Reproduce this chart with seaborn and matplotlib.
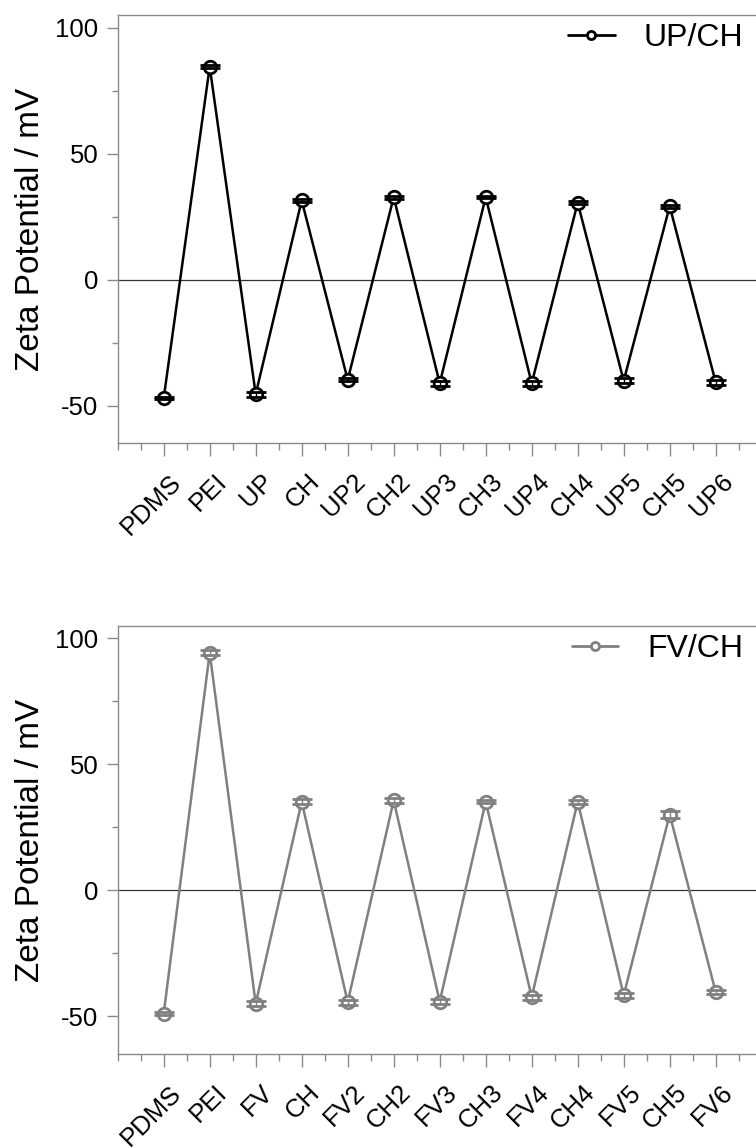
import numpy as np
import pandas as pd
import matplotlib
matplotlib.use("Agg")
import matplotlib.pyplot as plt
import matplotlib.transforms as mtransforms
from matplotlib.ticker import MultipleLocator
import seaborn as sns

# ---- data ----
labels_up = ["PDMS", "PEI", "UP", "CH", "UP2", "CH2", "UP3", "CH3", "UP4", "CH4", "UP5", "CH5", "UP6"]
values_up = [-47.1, 84.5, -45.5, 31.4, -39.8, 32.7, -41.2, 32.7, -41.2, 30.5, -40.2, 29.1, -40.8]
errors_up = [0.5, 0.6, 1.0, 0.5, 0.6, 0.6, 1.0, 0.5, 1.0, 0.6, 1.0, 0.6, 1.0]

labels_fv = ["PDMS", "PEI", "FV", "CH", "FV2", "CH2", "FV3", "CH3", "FV4", "CH4", "FV5", "CH5", "FV6"]
values_fv = [-48.9, 94.3, -44.9, 35.2, -44.3, 35.7, -44.1, 35.2, -42.3, 35.2, -41.6, 30.1, -40.3]
errors_fv = [0.5, 1.1, 1.0, 1.0, 1.0, 1.0, 1.0, 0.6, 1.0, 0.8, 1.0, 1.3, 0.9]

series_names = ["UP/CH", "FV/CH"]
series_colors = ["#000000", "#808080"]

sns.set_style("ticks")
plt.rcParams["font.family"] = ["Liberation Sans", "DejaVu Sans"]
plt.rcParams["text.color"] = "black"
plt.rcParams["axes.labelcolor"] = "black"
plt.rcParams["xtick.labelcolor"] = "black"
plt.rcParams["ytick.labelcolor"] = "black"

W, H = 756, 1148
fig = plt.figure(figsize=(W / 100, H / 100), dpi=100)

left_px, right_px = 117.7, 761.7
panels = [(15.0, 443.3), (625.7, 1054.3)]

datasets = [
    (labels_up, values_up, errors_up),
    (labels_fv, values_fv, errors_fv),
]

spine_col = "#8a8a8a"

for (top_px, bot_px), (labs, vals, errs), name, col in zip(panels, datasets, series_names, series_colors):
    ax = fig.add_axes([left_px / W, 1 - bot_px / H, (right_px - left_px) / W, (bot_px - top_px) / H])
    df = pd.DataFrame({"pos": np.arange(len(labs)), "value": vals, "err": errs, "series": name})

    ax.axhline(0, color="#333333", lw=0.9, zorder=1)
    sns.lineplot(data=df, x="pos", y="value", ax=ax, color=col, lw=1.8,
                 marker="o", markersize=9, markerfacecolor="white",
                 markeredgecolor=col, markeredgewidth=2.0, label=name, zorder=3)
    ax.errorbar(df["pos"], df["value"], yerr=df["err"], fmt="none", ecolor=col,
                elinewidth=1.0, capsize=7.5, capthick=2.0, zorder=4)

    ax.set_xlim(-1, 13)
    ax.set_ylim(-65, 105)
    ax.set_xticks(df["pos"])
    ax.set_xticklabels(labs, rotation=45, ha="right", va="center", rotation_mode="anchor", fontsize=18.5)
    ax.xaxis.set_minor_locator(MultipleLocator(0.5))
    ax.set_yticks([-50, 0, 50, 100])
    ax.set_yticklabels(["-50", "0", "50", "100"], fontsize=18.5)
    ax.yaxis.set_minor_locator(MultipleLocator(25))
    ax.tick_params(axis="y", which="major", direction="out", length=8, width=1, color=spine_col, pad=6)
    ax.tick_params(axis="y", which="minor", direction="out", length=4, width=1, color=spine_col)
    ax.tick_params(axis="x", which="major", direction="out", length=9.5, width=1, color=spine_col, pad=8)
    ax.tick_params(axis="x", which="minor", direction="out", length=5, width=1, color=spine_col)

    offset = mtransforms.ScaledTranslation(10 / 72, -7.5 / 72, fig.dpi_scale_trans)
    for lab in ax.get_xticklabels():
        lab.set_transform(lab.get_transform() + offset)

    for s in ax.spines.values():
        s.set_color(spine_col)
        s.set_linewidth(1.0)

    ax.set_xlabel("")
    ax.set_ylabel("Zeta Potential / mV", fontsize=24)
    ax.yaxis.set_label_coords(-0.112, 0.5)

    leg = ax.legend(loc="upper right",
                    bbox_to_anchor=((743 - left_px) / (right_px - left_px), 1.0 - 8 / (bot_px - top_px)),
                    frameon=False, fontsize=23, handlelength=1.45,
                    handletextpad=0.9, borderaxespad=0.0, borderpad=0.0, markerscale=0.65)
    for h in leg.legend_handles:
        h.set_linewidth(2.0)

fig.savefig("out.png", dpi=100)
